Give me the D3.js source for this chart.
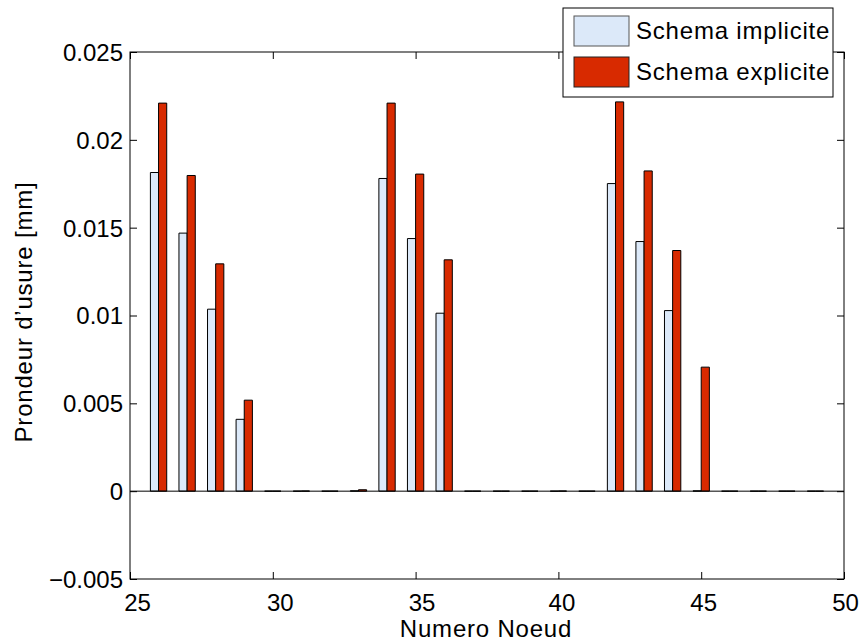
<!DOCTYPE html>
<html><head><meta charset="utf-8">
<script src="https://cdn.jsdelivr.net/npm/d3@7"></script>
<style>body{margin:0;background:#fff}svg{display:block}text{font-family:"Liberation Sans",Arial,Helvetica,sans-serif;fill:#000}</style>
</head><body><svg id="c" width="861" height="643"></svg>
<script>
const nodes = [26,27,28,29,30,31,32,33,34,35,36,37,38,39,40,41,42,43,44,45,46,47,48,49];
const implicite = [0.01814,0.01469,0.01036,0.00409,0,0,0,0.00002,0.01780,0.01438,0.01013,0,0,0,0,0,0.01751,0.01421,0.01028,0.00002,0,0,0,0];
const explicite = [0.02209,0.01797,0.01294,0.00518,0,0.00001,0,0.00008,0.02209,0.01805,0.01317,0,0,0,0.00001,0,0.02216,0.01823,0.01370,0.00706,0,0,0,0];
const seriesNames = ["Schema implicite","Schema explicite"];
const seriesColors = ["#dce9f9","#d82a00"];
const xTicks = [25,30,35,40,45,50];
const yTicks = [-0.005,0,0.005,0.01,0.015,0.02,0.025];
const yTickLabels = ["\u22120.005","0","0.005","0.01","0.015","0.02","0.025"];
const xLabel = "Numero Noeud";
const yLabel = "Prondeur d\u2019usure [mm]";

const svg = d3.select("#c");
const L=130,R=844,T=52,B=579;
const x = d3.scaleLinear().domain([25,50]).range([L,R]);
const y = d3.scaleLinear().domain([-0.005,0.025]).range([B,T]);
const FS = 24;
const LS = "0.8px";

// bars
const bw = 0.2857;
const series = [implicite, explicite];
series.forEach((vals,si)=>{
  const off = si===0 ? -bw/2 : bw/2;
  svg.append("g").selectAll("path").data(nodes).join("path")
    .attr("d",(d,i)=>{
      const x0=x(d+off-bw/2), x1=x(d+off+bw/2), y0=y(0), y1=y(vals[i]);
      return `M${x0},${y0}V${y1}H${x1}V${y0}Z`;
    })
    .attr("fill",seriesColors[si]).attr("stroke","#000").attr("stroke-width",1);
});
// baseline
svg.append("line").attr("x1",L).attr("x2",R).attr("y1",y(0)).attr("y2",y(0)).attr("stroke","#000");

// box
svg.append("rect").attr("x",L).attr("y",T).attr("width",R-L).attr("height",B-T).attr("fill","none").attr("stroke","#000");

// axes (ticks inward)
const tl=7;
const xLabShift = [7,7,6,3,2,1];
const gx = svg.append("g").attr("transform",`translate(0,${B})`).call(d3.axisBottom(x).tickValues(xTicks).tickSize(-tl).tickFormat(d3.format("d")));
gx.select(".domain").remove();
gx.selectAll("text").attr("font-size",FS).attr("dy",null).attr("y",32).attr("x",(d,i)=>xLabShift[i]).style("font-family","Liberation Sans, Arial, sans-serif");
const gxt = svg.append("g").attr("transform",`translate(0,${T})`).call(d3.axisTop(x).tickValues(xTicks).tickSize(-tl).tickFormat(""));
gxt.select(".domain").remove();
const gy = svg.append("g").attr("transform",`translate(${L},0)`).call(d3.axisLeft(y).tickValues(yTicks).tickSize(-tl).tickFormat((d,i)=>yTickLabels[i]));
gy.select(".domain").remove();
gy.selectAll("text").attr("font-size",FS).attr("x",-7).attr("dy","0.35em").style("font-family","Liberation Sans, Arial, sans-serif");
const gyr = svg.append("g").attr("transform",`translate(${R},0)`).call(d3.axisRight(y).tickValues(yTicks).tickSize(-tl).tickFormat(""));
gyr.select(".domain").remove();
svg.selectAll(".tick line").attr("stroke","#000");

// labels
svg.append("text").attr("x",486).attr("y",637).attr("text-anchor","middle").attr("font-size",FS).attr("letter-spacing",LS).text(xLabel);
svg.append("text").attr("transform","translate(32,312) rotate(-90)").attr("text-anchor","middle").attr("font-size",FS).attr("letter-spacing",LS).text(yLabel);

// legend
const lg = svg.append("g");
lg.append("rect").attr("x",563).attr("y",8).attr("width",270).attr("height",89).attr("fill","#fff").attr("stroke","#000");
seriesNames.forEach((n,i)=>{
  lg.append("rect").attr("x",574).attr("y",16+i*41).attr("width",55).attr("height",30)
    .attr("fill",seriesColors[i]).attr("stroke",i===0?"#555":"#222");
  lg.append("text").attr("x",636).attr("y",31+i*41).attr("dy","0.35em").attr("font-size",FS).attr("letter-spacing",LS).text(n);
});
</script></body></html>
